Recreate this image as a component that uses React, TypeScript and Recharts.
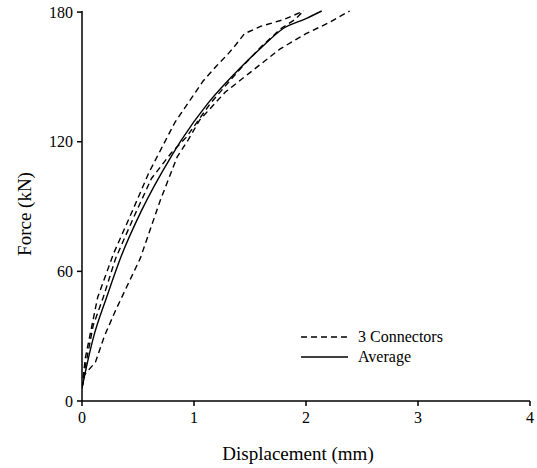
import React from 'react';
import { LineChart, Line, XAxis, YAxis, Legend, Label } from 'recharts';

// Specimen curves (3 connectors) and average: displacement (mm) vs force (kN)
const specimenA = [
  { x: 0, y: 6 }, { x: 0.03, y: 20 }, { x: 0.14, y: 48 }, { x: 0.28, y: 68 },
  { x: 0.45, y: 88 }, { x: 0.6, y: 106 }, { x: 0.83, y: 129 }, { x: 1.08, y: 148 },
  { x: 1.2, y: 155 }, { x: 1.31, y: 161 }, { x: 1.36, y: 164 }, { x: 1.45, y: 170 },
  { x: 1.6, y: 173.5 }, { x: 1.8, y: 176.5 }, { x: 1.98, y: 180.5 },
];
const specimenB = [
  { x: 0, y: 6 }, { x: 0.03, y: 16 }, { x: 0.1, y: 35 }, { x: 0.19, y: 48 },
  { x: 0.3, y: 66 }, { x: 0.47, y: 86 }, { x: 0.62, y: 103 }, { x: 0.8, y: 115 },
  { x: 0.93, y: 122 }, { x: 1.15, y: 138 }, { x: 1.4, y: 153 }, { x: 1.6, y: 164 },
  { x: 1.78, y: 172.5 }, { x: 1.9, y: 176.5 }, { x: 1.98, y: 180.5 },
];
const specimenC = [
  { x: 0, y: 6 }, { x: 0.02, y: 12 }, { x: 0.12, y: 18 }, { x: 0.2, y: 30 },
  { x: 0.3, y: 42 }, { x: 0.52, y: 66 }, { x: 0.7, y: 93 }, { x: 0.85, y: 113 },
  { x: 0.95, y: 121 }, { x: 1.05, y: 130 }, { x: 1.28, y: 143 }, { x: 1.5, y: 152 },
  { x: 1.77, y: 163 }, { x: 2.0, y: 170 }, { x: 2.2, y: 175 }, { x: 2.39, y: 180.5 },
];
const average = [
  { x: 0, y: 6 }, { x: 0.02, y: 11 }, { x: 0.1, y: 29 }, { x: 0.22, y: 48 },
  { x: 0.35, y: 67 }, { x: 0.53, y: 88 }, { x: 0.8, y: 113.5 }, { x: 0.89, y: 121 },
  { x: 1.12, y: 137.5 }, { x: 1.41, y: 154 }, { x: 1.6, y: 163.5 }, { x: 1.8, y: 172.5 },
  { x: 2.0, y: 177 }, { x: 2.14, y: 180.5 },
];

const xTicks = [0, 1, 2, 3, 4];
const yTicks = [0, 60, 120, 180];
const legendItems = [
  { label: '3 Connectors', dashed: true },
  { label: 'Average', dashed: false },
];

const FONT = '"Liberation Serif", "Times New Roman", serif';

const renderLegend = () => (
  <div style={{ fontFamily: FONT, fontSize: 16, color: '#000', lineHeight: '20px' }}>
    {legendItems.map((it) => (
      <div key={it.label} style={{ display: 'flex', alignItems: 'center', height: 20 }}>
        <svg width={50} height={10} style={{ marginRight: 8 }}>
          <line x1={1} y1={5} x2={48} y2={5} stroke="#000" strokeWidth={1.4}
            strokeDasharray={it.dashed ? '6 4' : undefined} />
        </svg>
        <span>{it.label}</span>
      </div>
    ))}
  </div>
);

export default function App() {
  const tickStyle = { fill: '#000', fontSize: 16, fontFamily: FONT };
  return (
    <div style={{ fontFamily: FONT }}>
      <style>{`body{margin:0} .recharts-surface text{font-family:${FONT};}`}</style>
      <LineChart width={537} height={468} margin={{ top: 11, right: 7, left: 0, bottom: 7 }}
        style={{ fontFamily: FONT }}>
        <XAxis
          dataKey="x" type="number" domain={[0, 4]} ticks={xTicks}
          allowDataOverflow height={60}
          axisLine={{ stroke: '#000', strokeWidth: 1.5 }}
          tickLine={{ stroke: '#000', strokeWidth: 1.5 }}
          tickSize={5} tickMargin={6} tick={tickStyle} fontFamily={FONT}
        >
          <Label
            content={(props: any) => {
              const vb = props.viewBox;
              return (
                <text x={vb.x + vb.width / 2 - 8} y={vb.y + 59} textAnchor="middle"
                  fontFamily={FONT} fontSize={19} fill="#000">Displacement (mm)</text>
              );
            }}
          />
        </XAxis>
        <YAxis
          type="number" domain={[0, 180]} ticks={yTicks} width={82}
          axisLine={{ stroke: '#000', strokeWidth: 1.5 }}
          tickLine={{ stroke: '#000', strokeWidth: 1.5 }}
          tickSize={5} tickMargin={4} tick={tickStyle} fontFamily={FONT}
        >
          <Label
            content={(props: any) => {
              const vb = props.viewBox;
              const cx = vb.x + 24;
              const cy = vb.y + vb.height / 2 + 8;
              return (
                <text x={cx} y={cy} textAnchor="middle" dominantBaseline="central"
                  transform={`rotate(-90 ${cx} ${cy})`}
                  fontFamily={FONT} fontSize={19} fill="#000">Force (kN)</text>
              );
            }}
          />
        </YAxis>
        <Legend
          content={renderLegend}
          layout="horizontal"
          verticalAlign="middle"
          align="center"
          wrapperStyle={{ left: 300, top: 327, width: 180 }}
        />
        <Line data={specimenA} dataKey="y" type="linear" stroke="#000" strokeWidth={1.4}
          strokeDasharray="6 4" dot={false} isAnimationActive={false} legendType="none" />
        <Line data={specimenB} dataKey="y" type="linear" stroke="#000" strokeWidth={1.4}
          strokeDasharray="6 4" dot={false} isAnimationActive={false} legendType="none" />
        <Line data={specimenC} dataKey="y" type="linear" stroke="#000" strokeWidth={1.4}
          strokeDasharray="6 4" dot={false} isAnimationActive={false} legendType="none" />
        <Line data={average} dataKey="y" type="monotone" stroke="#000" strokeWidth={1.4}
          dot={false} isAnimationActive={false} legendType="none" />
      </LineChart>
    </div>
  );
}
